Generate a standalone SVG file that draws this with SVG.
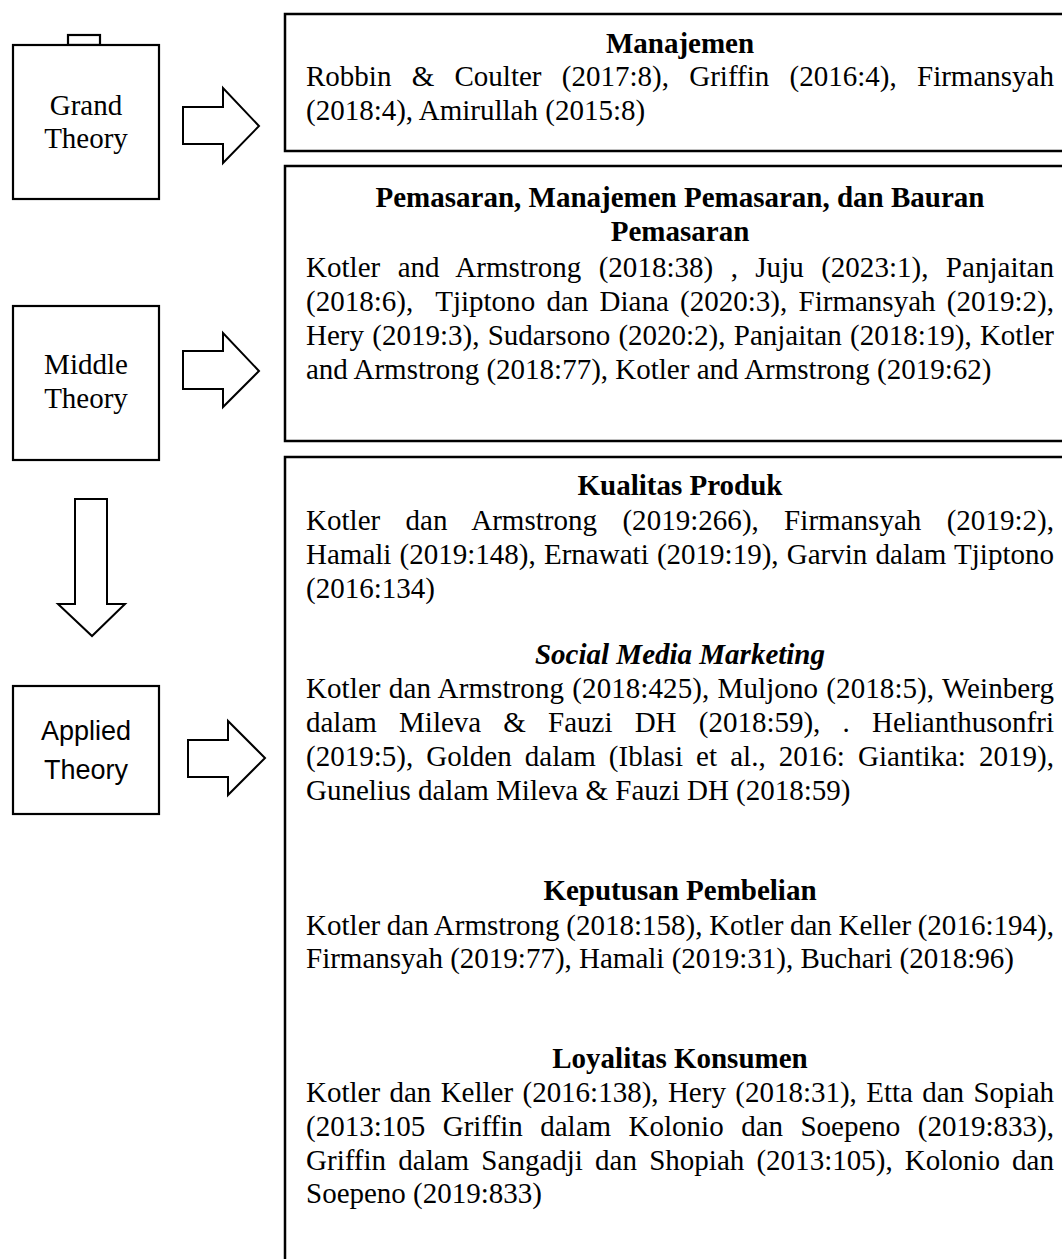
<svg xmlns="http://www.w3.org/2000/svg" width="1062" height="1259" viewBox="0 0 1062 1259">
<style>
.box{fill:#fff;stroke:#000;stroke-width:2.2}
.rbox{fill:#fff;stroke:#000;stroke-width:2.5}
.arr{fill:#fff;stroke:#000;stroke-width:2;stroke-linejoin:miter}
.lt{font-family:"Liberation Serif","Times New Roman",serif;font-size:29px;fill:#000;text-anchor:middle}
.ls{font-family:"Liberation Sans",Arial,sans-serif;font-size:27px;fill:#000;text-anchor:middle}
.t{font-family:"Liberation Serif","Times New Roman",serif;font-size:29px;font-weight:bold;fill:#000;text-anchor:middle}
.ti{font-style:italic}
.b{font-family:"Liberation Serif","Times New Roman",serif;font-size:29px;fill:#000}
</style>
<rect width="1062" height="1259" fill="#fff"/>
<g id="grand-theory">
<rect class="box" x="68" y="35" width="32" height="10"/>
<rect class="box" x="13" y="45" width="146" height="154"/>
<text class="lt" x="86" y="115">Grand</text>
<text class="lt" x="86" y="148">Theory</text>
</g>
<g id="middle-theory">
<rect class="box" x="13" y="306" width="146" height="154"/>
<text class="lt" x="86" y="374">Middle</text>
<text class="lt" x="86" y="408">Theory</text>
</g>
<g id="applied-theory">
<rect class="box" x="13" y="686" width="146" height="128"/>
<text class="ls" x="86" y="740">Applied</text>
<text class="ls" x="86" y="779">Theory</text>
</g>
<g id="connectors">
<polygon class="arr" points="183,107 223,107 223,88 259,126 223,163 223,144 183,144"/>
<polygon class="arr" points="183,351 223,351 223,333 259,371 223,407 223,389 183,389"/>
<polygon class="arr" points="188,740 228,740 228,721 265,758 228,795 228,777 188,777"/>
<polygon class="arr" points="75,499 107,499 107,604 125,604 92,636 58,604 75,604"/>
</g>
<g id="manajemen">
<rect class="rbox" x="285" y="14" width="800" height="137"/>
<text class="t" x="680" y="53">Manajemen</text>
<text class="b" x="306" y="86" word-spacing="13" textLength="748" lengthAdjust="spacing">Robbin &amp; Coulter (2017:8), Griffin (2016:4), Firmansyah</text>
<text class="b" x="306" y="120">(2018:4), Amirullah (2015:8)</text>
</g>
<g id="pemasaran">
<rect class="rbox" x="285" y="166" width="800" height="275"/>
<text class="t" x="680" y="207">Pemasaran, Manajemen Pemasaran, dan Bauran</text>
<text class="t" x="680" y="241">Pemasaran</text>
<text class="b" x="306" y="277" word-spacing="10.1" textLength="748" lengthAdjust="spacing">Kotler and Armstrong (2018:38) , Juju (2023:1), Panjaitan</text>
<text class="b" x="306" y="311" word-spacing="4" textLength="748" lengthAdjust="spacing">(2018:6),&#160; Tjiptono dan Diana (2020:3), Firmansyah (2019:2),</text>
<text class="b" x="306" y="345" word-spacing="1" textLength="748" lengthAdjust="spacing">Hery (2019:3), Sudarsono (2020:2), Panjaitan (2018:19), Kotler</text>
<text class="b" x="306" y="379">and Armstrong (2018:77), Kotler and Armstrong (2019:62)</text>
</g>
<g id="applied-variables">
<rect class="rbox" x="285" y="457" width="800" height="900"/>
<text class="t" x="680" y="495">Kualitas Produk</text>
<text class="b" x="306" y="530" word-spacing="18" textLength="748" lengthAdjust="spacing">Kotler dan Armstrong (2019:266), Firmansyah (2019:2),</text>
<text class="b" x="306" y="564" word-spacing="0.9" textLength="748" lengthAdjust="spacing">Hamali (2019:148), Ernawati (2019:19), Garvin dalam Tjiptono</text>
<text class="b" x="306" y="598">(2016:134)</text>
<text class="t ti" x="680" y="664">Social Media Marketing</text>
<text class="b" x="306" y="698" word-spacing="0.9" textLength="748" lengthAdjust="spacing">Kotler dan Armstrong (2018:425), Muljono (2018:5), Weinberg</text>
<text class="b" x="306" y="732" word-spacing="14.9" textLength="748" lengthAdjust="spacing">dalam Mileva &amp; Fauzi DH (2018:59), . Helianthusonfri</text>
<text class="b" x="306" y="766" word-spacing="5.9" textLength="748" lengthAdjust="spacing">(2019:5), Golden dalam (Iblasi et al., 2016: Giantika: 2019),</text>
<text class="b" x="306" y="800">Gunelius dalam Mileva &amp; Fauzi DH (2018:59)</text>
<text class="t" x="680" y="900">Keputusan Pembelian</text>
<text class="b" x="306" y="935" word-spacing="-0.7" textLength="748" lengthAdjust="spacing">Kotler dan Armstrong (2018:158), Kotler dan Keller (2016:194),</text>
<text class="b" x="306" y="968">Firmansyah (2019:77), Hamali (2019:31), Buchari (2018:96)</text>
<text class="t" x="680" y="1068">Loyalitas Konsumen</text>
<text class="b" x="306" y="1102" word-spacing="2.1" textLength="748" lengthAdjust="spacing">Kotler dan Keller (2016:138), Hery (2018:31), Etta dan Sopiah</text>
<text class="b" x="306" y="1136" word-spacing="10.2" textLength="748" lengthAdjust="spacing">(2013:105 Griffin dalam Kolonio dan Soepeno (2019:833),</text>
<text class="b" x="306" y="1170" word-spacing="4.9" textLength="748" lengthAdjust="spacing">Griffin dalam Sangadji dan Shopiah (2013:105), Kolonio dan</text>
<text class="b" x="306" y="1203">Soepeno (2019:833)</text>
</g>
</svg>
